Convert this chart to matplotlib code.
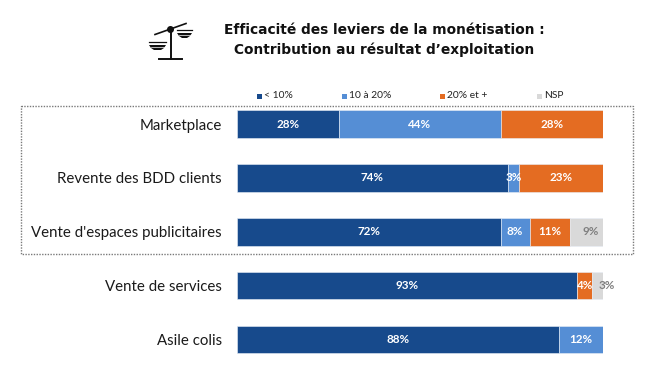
import matplotlib
matplotlib.use("Agg")
import matplotlib.pyplot as plt
from matplotlib.patches import Rectangle, Polygon, Circle

categories = ["Marketplace", "Revente des BDD clients", "Vente d'espaces publicitaires",
              "Vente de services", "Asile colis"]
series_names = ["< 10%", "10 à 20%", "20% et +", "NSP"]
low = [28, 74, 72, 93, 88]
mid = [44, 3, 8, 0, 12]
high = [28, 23, 11, 4, 0]
nsp = [0, 0, 9, 3, 0]
series = [low, mid, high, nsp]
colors = ["#174A8C", "#558ED5", "#E46C22", "#D9D9D9"]
label_colors = ["white", "white", "white", "#7F7F7F"]
title = "Efficacité des leviers de la monétisation :\nContribution au résultat d’exploitation"

W, H = 650, 367
fig = plt.figure(figsize=(W / 100, H / 100), dpi=100, facecolor="white")

# Main bars
ax = fig.add_axes([237 / W, 1 - 366.4 / H, 366 / W, 269.2 / H])
ax.patch.set_visible(False)
ax.set_xlim(0, 100)
ax.set_ylim(4.5, -0.5)
left = [0] * len(categories)
for vals, col, tc in zip(series, colors, label_colors):
    ax.barh(range(len(categories)), vals, left=left, height=0.51, color=col,
            edgecolor="#E8EEF6", linewidth=0.4)
    for i, v in enumerate(vals):
        if v:
            x = left[i] + v / 2
            if col == colors[3]:
                x += 2.5 if v == 3 else 1.0
            ax.text(x, i, f"{v}%", ha="center", va="center", color=tc,
                    fontsize=8.4, fontweight="bold", family="Lato", clip_on=False)
    left = [a + b for a, b in zip(left, vals)]
ax.set_yticks(range(len(categories)), categories)
ax.tick_params(axis="y", length=0, pad=11, labelsize=10.8, labelcolor="#1a1a1a")
ax.set_xticks([])
for lab in ax.get_yticklabels():
    lab.set_family("Lato")
for s in ax.spines.values():
    s.set_visible(False)

# Overlay in pixel coordinates for decoration
ov = fig.add_axes([0, 0, 1, 1], zorder=-1)
ov.set_xlim(0, W)
ov.set_ylim(H, 0)
ov.axis("off")
ov.add_patch(Rectangle((20.5, 105.5), 612, 148.5, fill=False, edgecolor="#7a7a7a",
                       linewidth=1.0, linestyle=(0, (1, 1))))

fig.text(384 / W, 1 - 40 / H, title, ha="center", va="center", fontsize=9.9,
         fontweight="bold", family="DejaVu Sans", color="#111111", linespacing=1.4)

# Legend
for name, col, x in zip(series_names, colors, [257, 342, 440, 537]):
    ov.add_patch(Rectangle((x, 93.5), 5, 5, color=col, lw=0))
    ov.text(x + 7, 96, name, va="center", ha="left", fontsize=7.4, family="Lato", color="#222222")

# Scale icon
k = "#111111"
ov.plot([171, 171], [30, 59], color=k, lw=1.4)
ov.plot([159, 182], [59, 59], color=k, lw=1.4)
ov.plot([155, 186], [34.5, 23.5], color=k, lw=1.2)
ov.add_patch(Circle((170.5, 29.5), 3.5, color=k, lw=0))
for x0, x1, y0 in [(149, 166, 42), (177, 192, 30)]:
    ov.plot([x0, x1], [y0, y0], color=k, lw=0.9)
    ov.add_patch(Polygon([[x0, y0 + 3], [x1, y0 + 3], [x1 - 2, y0 + 6], [x1 - 5, y0 + 8],
                          [x0 + 5, y0 + 8], [x0 + 2, y0 + 6]], color=k, lw=0))
    ov.plot([x0 + 2, x1 - 2], [y0 + 5.2, y0 + 5.2], color="white", lw=0.5)

fig.savefig("out.png", dpi=100)
